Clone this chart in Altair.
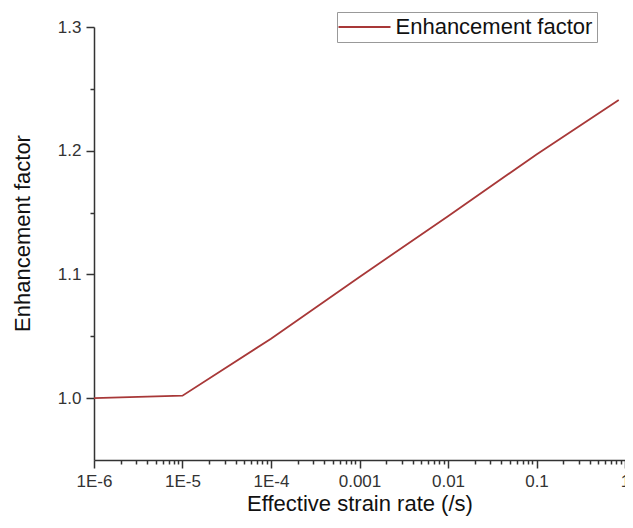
import altair as alt
import pandas as pd

# ---- data ----
strain_rate = [1e-6, 1e-5, 1e-4, 1e-3, 1e-2, 1e-1, 0.85]
enhancement = [1.000, 1.002, 1.048, 1.098, 1.147, 1.197, 1.241]
series_name = "Enhancement factor"

x_major_values = [1e-6, 1e-5, 1e-4, 1e-3, 1e-2, 1e-1, 1.0]
x_major_labels = ["1E-6", "1E-5", "1E-4", "0.001", "0.01", "0.1", "1"]
x_minor_mult = [2, 3, 4, 5, 6, 7, 8, 9]

y_tick_values = [1.0, 1.05, 1.1, 1.15, 1.2, 1.25, 1.3]
y_tick_labels = ["1.0", "", "1.1", "", "1.2", "", "1.3"]

df = pd.DataFrame({"rate": strain_rate, "ef": enhancement,
                   "series": [series_name] * len(strain_rate)})

x_minor_values = [m * v for v in x_major_values[:-1] for m in x_minor_mult]
x_values = sorted(x_major_values + x_minor_values)

def near(v):
    return f"abs(datum.value - {v!r}) < {v!r} * 1e-6"

x_label_expr = "''"
for v, lab in reversed(list(zip(x_major_values, x_major_labels))):
    x_label_expr = f"({near(v)}) ? '{lab}' : {x_label_expr}"
x_major_test = " || ".join(f"({near(v)})" for v in x_major_values)

y_label_expr = "''"
for v, lab in reversed(list(zip(y_tick_values, y_tick_labels))):
    y_label_expr = f"(abs(datum.value - {v}) < 1e-6) ? '{lab}' : {y_label_expr}"
y_major_vals = [v for v, lab in zip(y_tick_values, y_tick_labels) if lab]
y_major_test = " || ".join(f"(abs(datum.value - {v}) < 1e-6)" for v in y_major_vals)

FONT = "Liberation Sans, Arial, Helvetica, sans-serif"
AX = "#333333"

chart = alt.Chart(df).mark_line(strokeWidth=1.8).encode(
    x=alt.X("rate:Q",
            scale=alt.Scale(type="log", domain=[1e-6, 1.0], nice=False),
            axis=alt.Axis(
                title="Effective strain rate (/s)",
                values=x_values,
                labelExpr=x_label_expr,
                tickSize={"condition": {"test": x_major_test, "value": 8}, "value": 4},
                labelPadding=5,
                labelFlush=False,
                labelOverlap=False,
                labelFont=FONT,
                labelFontSize=17,
                labelColor="#333333",
                titleY=50,
                titleBaseline="alphabetic",
            )),
    y=alt.Y("ef:Q",
            scale=alt.Scale(domain=[0.95, 1.3], nice=False, zero=False),
            axis=alt.Axis(
                title="Enhancement factor",
                values=y_tick_values,
                labelExpr=y_label_expr,
                tickSize={"condition": {"test": y_major_test, "value": 8}, "value": 4},
                labelPadding=5,
                labelFont=FONT,
                labelFontSize=17,
                labelColor="#333333",
                titleAngle=270,
                titleX=-71.5,
                titleY=206,
                titleAlign="center",
                titleBaseline="middle",
            )),
    color=alt.Color("series:N",
                    scale=alt.Scale(range=["#a83838"]),
                    legend=alt.Legend(
                        title=None,
                        orient="none",
                        legendX=243,
                        legendY=-15,
                        symbolType="M-4,0H4",
                        symbolSize=169,
                        symbolOffset=12.5,
                        symbolStrokeWidth=2,
                        labelFontSize=22,
                        labelFont=FONT,
                        labelColor="#111111",
                        labelLimit=400,
                        labelOffset=20,
                        padding=4,
                        strokeColor="#999999",
                        fillColor="white",
                    )),
).properties(
    width=531,
    height=433,
    autosize=alt.AutoSizeParams(type="none"),
    padding={"left": 86, "top": 19, "right": 0, "bottom": 56},
).configure_view(
    stroke=None
).configure_axis(
    grid=False,
    domainColor=AX,
    domainWidth=1.5,
    tickColor=AX,
    tickWidth=1.5,
    titleFont=FONT,
    titleFontSize=22,
    titleFontWeight="normal",
    titleColor="#111111",
)

chart.save("out.html", embed_options={"renderer": "svg", "actions": False})
